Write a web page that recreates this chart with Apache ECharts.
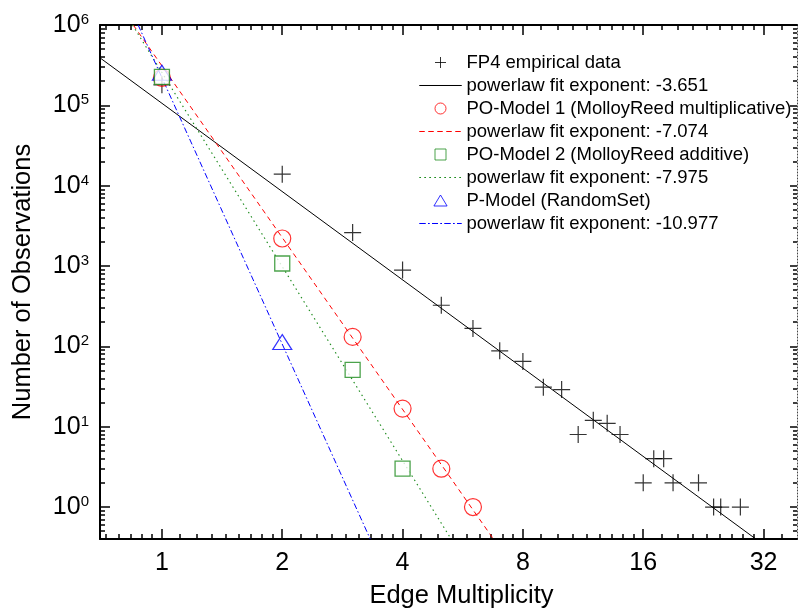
<!DOCTYPE html>
<html><head><meta charset="utf-8">
<script src="https://cdn.jsdelivr.net/npm/echarts@6/dist/echarts.min.js"></script>
<style>html,body{margin:0;padding:0;background:#fff}#c{width:798px;height:612px}</style>
</head><body><div id="c"></div>
<script>
// ---- data ----
const fp4X = [1, 2, 3, 4, 5, 6, 7, 8, 9, 10, 11, 12, 13, 14, 16, 17, 18, 19, 22, 24, 25, 28];
const fp4Y = [180000, 13900, 2610, 890, 325, 167, 88, 65, 31, 29, 8, 12, 11, 8, 2, 4, 4, 2, 2, 1, 1, 1];
const fp4FitX = [0.7, 30.6];
const fp4FitY = [390000, 0.4];
const po1X = [1, 2, 3, 4, 5, 6];
const po1Y = [220000, 2200, 131, 16.8, 3, 1];
const po1FitX = [0.848, 6.75];
const po1FitY = [1000000, 0.4];
const po2X = [1, 2, 3, 4];
const po2Y = [226000, 1075, 51, 3];
const po2FitX = [0.844, 5.29];
const po2FitY = [1000000, 0.4];
const pX = [1, 2];
const pY = [254000, 113];
const pFitX = [0.872, 3.32];
const pFitY = [1000000, 0.4];
const xTickLabels = [1, 2, 4, 8, 16, 32];
const yTickLabels = [1, 10, 100, 1000, 10000, 100000, 1000000];
const names = [
  'FP4 empirical data',
  'powerlaw fit exponent: -3.651',
  'PO-Model 1 (MolloyReed multiplicative)',
  'powerlaw fit exponent: -7.074',
  'PO-Model 2 (MolloyReed additive)',
  'powerlaw fit exponent: -7.975',
  'P-Model (RandomSet)',
  'powerlaw fit exponent: -10.977'
];

const X_MIN = 0.7, X_MAX = 38.8, Y_MIN = 0.4, Y_MAX = 1000000;
const FONT = '"Liberation Sans", Arial, sans-serif';
const RED = '#ff0000', GREEN = '#1f8c1f', BLUE = '#0000ff';
const DASH_RED = [5, 4], DOT_GREEN = [1.5, 3.5], DASHDOT_BLUE = [6, 2.5, 1.5, 2.5];

const xMinor = [];
for (let k = -1; k <= 5; k++) {
  const b = Math.pow(2, k);
  for (let j = 1; j <= 8; j++) { const v = b * (1 + j / 9); if (v > X_MIN && v < X_MAX) xMinor.push(v); }
}
const yMinor = [];
for (let d = -1; d <= 5; d++) {
  for (let k = 2; k <= 9; k++) { const v = k * Math.pow(10, d); if (v > Y_MIN * 1.001 && v < Y_MAX) yMinor.push(v); }
}

function pairs(xs, ys) { return xs.map((x, i) => [x, ys[i]]); }

// legend icon for a fit line: thin (dashed) bar, filled with the series colour
function lineIcon(pattern) {
  const W = 42, h = 0.01;
  const parts = [];
  if (!pattern) {
    parts.push('M0,0L' + W + ',0L' + W + ',' + h + 'L0,' + h + 'Z');
  } else {
    let x = 0, on = true, i = 0;
    while (x < W) {
      const len = pattern[i % pattern.length];
      if (on) {
        const x2 = Math.min(W, x + len);
        parts.push('M' + x + ',0L' + x2 + ',0L' + x2 + ',' + h + 'L' + x + ',' + h + 'Z');
      }
      x += len; on = !on; i++;
    }
    parts.push('M' + W + ',0');
  }
  return 'path://' + parts.join('');
}

function xAx(pos, ticks, len, extra) {
  return Object.assign({
    type: 'log', logBase: 2, min: X_MIN, max: X_MAX, position: pos, gridIndex: 0,
    axisLine: { show: false, onZero: false },
    splitLine: { show: false }, minorTick: { show: false }, minorSplitLine: { show: false },
    axisTick: { show: true, inside: true, length: len, customValues: ticks, lineStyle: { color: '#000', width: 1.5 } },
    axisLabel: { show: false }, axisPointer: { show: false }, silent: true
  }, extra || {});
}
function yAx(pos, ticks, len, extra) {
  return Object.assign({
    type: 'log', logBase: 10, min: Y_MIN, max: Y_MAX, position: pos, gridIndex: 0,
    axisLine: { show: false, onZero: false },
    splitLine: { show: false }, minorTick: { show: false }, minorSplitLine: { show: false },
    axisTick: { show: true, inside: true, length: len, customValues: ticks, lineStyle: { color: '#000', width: 1.5 } },
    axisLabel: { show: false }, axisPointer: { show: false }, silent: true
  }, extra || {});
}

const chart = echarts.init(document.getElementById('c'), null, { renderer: 'canvas' });
const plusPath = 'path://M0,5L10,5M5,0L5,10';
const squarePath = 'path://M0,0L10,0L10,10L0,10Z';
const trianglePath = 'path://M6,0L12,10L0,10Z';

// fit lines as 'lines' series (two end points each)
function fitSeries(name, xs, ys, color, width, type) {
  return { name: name, type: 'lines', coordinateSystem: 'cartesian2d', xAxisIndex: 0, yAxisIndex: 0,
    polyline: false, silent: true, z: 2, clip: true, effect: { show: false },
    data: [{ coords: pairs(xs, ys) }],
    itemStyle: { color: color },
    lineStyle: { color: color, width: width, type: type, opacity: 1, curveness: 0 } };
}

const option = {
  animation: false,
  backgroundColor: '#fff',
  textStyle: { fontFamily: FONT },
  grid: { left: 100, right: 1, top: 25, bottom: 73, containLabel: false, outerBoundsMode: 'none' },
  xAxis: [
    xAx('bottom', xTickLabels, 10, {
      axisLine: { show: true, onZero: false, lineStyle: { color: '#000', width: 2 } },
      axisLabel: { show: true, customValues: xTickLabels, margin: 12, fontSize: 25, lineHeight: 25, color: '#000', fontFamily: FONT,
        formatter: v => String(Math.round(v)) },
      name: 'Edge Multiplicity', nameLocation: 'middle', nameGap: 44,
      nameTextStyle: { fontSize: 25.5, lineHeight: 25, color: '#000', fontFamily: FONT, padding: [0, 0, 0, 26] }
    }),
    xAx('bottom', xMinor, 5),
    xAx('top', xTickLabels, 10, { axisLine: { show: true, onZero: false, lineStyle: { color: '#000', width: 2 } } }),
    xAx('top', xMinor, 5)
  ],
  yAxis: [
    yAx('left', yTickLabels, 10, {
      axisLine: { show: true, onZero: false, lineStyle: { color: '#000', width: 2 } },
      axisLabel: { show: true, customValues: yTickLabels, margin: 11, color: '#000', fontFamily: FONT,
        formatter: v => '{b|10}{s|' + Math.round(Math.log10(v)) + '}',
        rich: {
          b: { fontSize: 25, lineHeight: 25, color: '#000', fontFamily: FONT },
          s: { fontSize: 15, lineHeight: 9, verticalAlign: 'top', color: '#000', fontFamily: FONT }
        } },
      name: 'Number of Observations', nameLocation: 'middle', nameGap: 65,
      nameTextStyle: { fontSize: 25.5, lineHeight: 25, color: '#000', fontFamily: FONT }
    }),
    yAx('left', yMinor, 5),
    yAx('right', yTickLabels, 7, { axisLine: { show: true, onZero: false, lineStyle: { color: '#444', width: 1, type: [1, 2] } } }),
    yAx('right', yMinor, 4)
  ],
  legend: {
    orient: 'vertical', left: 414, top: 48, itemWidth: 42, itemHeight: 11, itemGap: 4,
    selectedMode: false,
    textStyle: { fontSize: 18.5, color: '#000', fontFamily: FONT },
    itemStyle: { borderWidth: 1 },
    lineStyle: { width: 1 },
    data: [
      { name: names[0] },
      { name: names[1], icon: lineIcon(null) },
      { name: names[2] },
      { name: names[3], icon: lineIcon(DASH_RED) },
      { name: names[4], icon: squarePath },
      { name: names[5], icon: lineIcon(DOT_GREEN) },
      { name: names[6], icon: trianglePath },
      { name: names[7], icon: lineIcon(DASHDOT_BLUE) }
    ]
  },
  series: [
    fitSeries(names[1], fp4FitX, fp4FitY, '#000', 1, 'solid'),
    { name: names[0], type: 'scatter', data: pairs(fp4X, fp4Y), symbol: plusPath, symbolSize: 17, silent: true, z: 3,
      itemStyle: { color: 'transparent', borderColor: '#000', borderWidth: 1.2 } },
    fitSeries(names[3], po1FitX, po1FitY, RED, 1, DASH_RED),
    { name: names[2], type: 'scatter', data: pairs(po1X, po1Y), symbol: 'circle', symbolSize: 17, silent: true, z: 3,
      itemStyle: { color: 'transparent', borderColor: RED, borderWidth: 1.2 } },
    fitSeries(names[5], po2FitX, po2FitY, GREEN, 1.2, DOT_GREEN),
    fitSeries(names[7], pFitX, pFitY, BLUE, 1, DASHDOT_BLUE),
    { name: names[6], type: 'scatter', data: pairs(pX, pY), symbol: 'triangle', symbolSize: [19, 15], silent: true, z: 3,
      itemStyle: { color: 'transparent', borderColor: BLUE, borderWidth: 1.2 } },
    { name: names[4], type: 'scatter', data: pairs(po2X, po2Y), symbol: 'rect', symbolSize: 15, silent: true, z: 4,
      itemStyle: { color: '#fff', borderColor: GREEN, borderWidth: 1.3 } }
  ]
};
chart.setOption(option);
</script>
</body></html>
